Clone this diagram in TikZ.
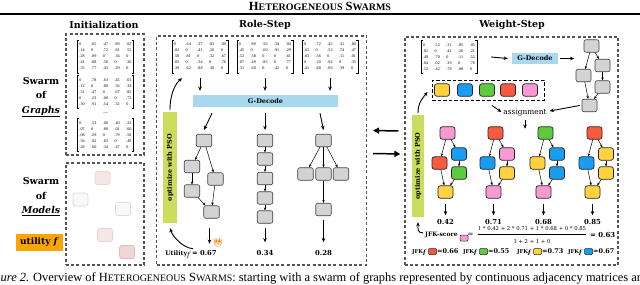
\documentclass[tikz,border=0pt]{standalone}
\usepackage{fontspec}
\setmainfont{DejaVu Serif}
\newfontfamily\tnr{Liberation Serif}
\newfontfamily\emo{Noto Emoji}
\usetikzlibrary{arrows.meta,calc}
\definecolor{psog}{HTML}{CADD5C}
\definecolor{gdec}{HTML}{A8D8EE}
\definecolor{utilo}{HTML}{F9A602}
\definecolor{gnf}{HTML}{D3D3D3}
\definecolor{cy}{HTML}{FFD23F}
\definecolor{cb}{HTML}{1A9CF0}
\definecolor{cg}{HTML}{5DCB3C}
\definecolor{cr}{HTML}{F85A3E}
\definecolor{cp}{HTML}{F79AD3}
\definecolor{boxc}{HTML}{555555}
\definecolor{pkd}{HTML}{EBD3D3}
\definecolor{pkf}{HTML}{F7E6E6}
\definecolor{whd}{HTML}{DCDCDC}
\definecolor{whf}{HTML}{F9F9F9}
\definecolor{pkdd}{HTML}{E3BDBD}
\definecolor{pkff}{HTML}{F1D6D6}
\newcommand{\mtx}[5]{{\tnr\fontsize{4.1}{6.1}\selectfont\setlength{\tabcolsep}{3.3pt}\begin{tabular}{@{}lllll@{}}#1\\#2\\#3\\#4\\#5\end{tabular}}}
\newcommand{\brk}[1]{\draw[line width=0.45pt] ([xshift=1.6pt]#1.north west) -- (#1.north west) -- (#1.south west) -- ([xshift=1.6pt]#1.south west); \draw[line width=0.45pt] ([xshift=-1.6pt]#1.north east) -- (#1.north east) -- (#1.south east) -- ([xshift=-1.6pt]#1.south east);}
\begin{document}
\begin{tikzpicture}[x=1pt,y=-1pt,
  dbox/.style={draw=boxc, line width=1.2pt, dash pattern=on 3pt off 2.2pt, inner sep=0pt},
  mat/.style={inner xsep=1.8pt, inner ysep=1.2pt},
  gn/.style={draw=black!75, fill=gnf, line width=0.6pt, rounded corners=2pt, minimum width=15.5pt, minimum height=12.5pt, inner sep=0pt},
  cn/.style={draw=black!85, line width=0.7pt, rounded corners=2.5pt, minimum width=15pt, minimum height=12.5pt, inner sep=0pt, fill=#1},
  md/.style 2 args={draw=#1, fill=#2, line width=0.7pt, rounded corners=2.5pt, minimum width=15pt, minimum height=13pt, inner sep=0pt},
  ed/.style={-{Stealth[length=3pt,width=2.4pt]}, line width=0.5pt},
  big/.style={-{Stealth[length=4.2pt,width=3.6pt]}, line width=0.9pt},
  huge/.style={-{Triangle[length=6pt,width=6pt]}, line width=1.5pt},
  psobar/.style={fill=psog, rotate=90, inner sep=0pt, font=\bfseries\fontsize{6.5}{7}\selectfont},
  gdbar/.style={fill=gdec, inner sep=0pt, font=\bfseries\fontsize{6.5}{7}\selectfont},
  ttl/.style={font=\bfseries\fontsize{9.5}{11}\selectfont, inner sep=0pt},
  lbl/.style={font=\bfseries\fontsize{9.5}{14.5}\selectfont, align=center, inner sep=0pt},
  score/.style={font=\bfseries\fontsize{6.9}{8}\selectfont, inner sep=0pt},
  txt/.style={inner sep=0pt},
  sq/.style={draw=black!85, line width=0.5pt, rounded corners=1pt, minimum width=8pt, minimum height=6pt, inner sep=0pt, fill=#1},
]
\useasboundingbox (0,0) rectangle (640,284);
\clip (0,0) rectangle (640,284);
\fill[white] (0,0) rectangle (640,284);

% title and rule
\node[txt, anchor=base, font=\tnr\bfseries\fontsize{12.5}{13}\selectfont] (title) at (320,10.5) {H{\fontsize{10}{11}\selectfont ETEROGENEOUS} S{\fontsize{10}{11}\selectfont WARMS}};
\draw[line width=1.1pt] (0,14) -- (640,14);

% ---------------- Initialization
\node[ttl] (it) at (104,25) {Initialization};
\node[dbox, minimum width=78pt, minimum height=121pt] (ib1) at (105,94.5) {};
\node[dbox, minimum width=78pt, minimum height=102pt] (ib2) at (105,214) {};
\node[mat] (im1) at (105.5,56.5) {\mtx{0 & .65 & .47 & .89 & .02}{.14 & 0 & .72 & .81 & .55}{.28 & .09 & 0 & .34 & 0}{.41 & .88 & .56 & 0 & .20}{.35 & .77 & .43 & .29 & 0}};
\brk{im1}
\node[mat] (im2) at (105.5,92) {\mtx{0 & .78 & .63 & .45 & .01}{.12 & 0 & .80 & .56 & .34}{.51 & .47 & 0 & .67 & .85}{0 & .23 & .06 & 0 & .72}{.30 & .91 & .54 & .32 & 0}};
\brk{im2}
\node[txt, font=\tnr\fontsize{6}{6}\selectfont] (idots) at (105.5,113) {...};
\node[mat] (im3) at (105.5,135) {\mtx{0 & .53 & .06 & .40 & .23}{.07 & 0 & .88 & .01 & .60}{.08 & .29 & 0 & .79 & .58}{.36 & .02 & .83 & 0 & .49}{.28 & .60 & .34 & .47 & 0}};
\brk{im3}
\node[lbl] (sg) at (41,97) {Swarm\\of\\\underline{\textit{Graphs}}};
\node[lbl] (sm) at (41,197) {Swarm\\of\\\underline{\textit{Models}}};
\node[fill=utilo, minimum width=47pt, minimum height=17pt, inner sep=0pt, font=\bfseries\fontsize{9}{10}\selectfont] (ut) at (39.5,242.5) {utility \textit{f}};
\node[md={pkd}{pkf}] (mo1) at (102.5,178) {};
\node[md={whd}{whf}] (mo2) at (80.5,199.5) {};
\node[md={whd}{whf}] (mo3) at (123,209) {};
\node[md={pkd}{pkf}] (mo4) at (105,235) {};
\node[md={pkdd}{pkff}] (mo5) at (127,252) {};

% ---------------- Role-Step
\node[ttl] (rt) at (265,25) {Role-Step};
\node[dbox, minimum width=210pt, minimum height=229pt] (rbox) at (261.5,150.5) {};
\node[mat] (rm1) at (200,56.5) {\mtx{0 & .64 & .37 & .83 & .09}{.02 & 0 & .41 & .26 & 0}{.58 & .81 & 0 & .32 & .67}{.05 & 0 & .54 & 0 & .76}{.39 & .62 & .88 & .30 & 0}};
\brk{rm1}
\node[mat] (rm2) at (265,56.5) {\mtx{0 & .80 & .56 & .34 & .04}{.45 & 0 & .60 & .91 & .29}{.52 & .38 & 0 & 0 & .61}{.07 & .49 & .85 & 0 & .77}{.31 & .60 & 0 & .42 & 0}};
\brk{rm2}
\node[mat] (rm3) at (330,56.5) {\mtx{0 & .72 & .45 & .31 & .80}{.62 & 0 & .53 & .74 & .47}{.03 & .36 & 0 & .11 & .01}{0 & .20 & .92 & 0 & .35}{.41 & .80 & .06 & .39 & 0}};
\brk{rm3}
\node[gdbar, minimum width=145pt, minimum height=12pt] (gd1) at (265.5,101) {G-Decode};
\foreach \m in {rm1,rm2,rm3} \draw[big] ([yshift=-5pt]\m.south) -- ([yshift=4pt]\m.south |- gd1.north);
\node[psobar, minimum width=111pt, minimum height=14pt] (pso1) at (170,167.5) {optimize with PSO};
\coordinate (m1tip) at ([xshift=-18pt,yshift=-5pt]rm1.south);
\draw[big] ([yshift=2pt]pso1.east) .. controls +(0,-17) and +(-6,5) .. (m1tip);

% graph 1
\node[gn] (r1a) at (204,140.5) {};
\node[gn] (r1b) at (192,166.5) {};
\node[gn] (r1c) at (215.5,179) {};
\node[gn] (r1d) at (192,191) {};
\node[gn] (r1e) at (211.5,212) {};
\draw[ed] (r1a) -- (r1b);
\draw[ed] (r1a) -- (r1c);
\draw[ed] (r1b) -- (r1d);
\draw[ed] (r1d) -- (r1e);
\draw[ed] (r1c) -- (r1e);
% graph 2
\node[gn] (r2a) at (265,140.5) {};
\node[gn] (r2b) at (265,159) {};
\node[gn] (r2c) at (265,178.5) {};
\node[gn] (r2d) at (265,198) {};
\node[gn] (r2e) at (265,217) {};
\draw[ed] (r2a) -- (r2b);
\draw[ed] (r2b) -- (r2c);
\draw[ed] (r2c) -- (r2d);
\draw[ed] (r2d) -- (r2e);
% graph 3
\node[gn] (r3a) at (323.5,140.5) {};
\node[gn] (r3b) at (305.5,174) {};
\node[gn] (r3c) at (323.5,174) {};
\node[gn] (r3d) at (341,174) {};
\node[gn] (r3e) at (323.5,209.5) {};
\draw[ed] (r3a) -- (r3b);
\draw[ed] (r3a) -- (r3c);
\draw[ed] (r3a) -- (r3d);
\draw[ed] (r3c) -- (r3e);
% arrows from G-Decode
\draw[big] ([xshift=-53.5pt,yshift=-6pt]gd1.south) -- ([yshift=4pt]r1a.north);
\draw[big] ([xshift=-0.5pt,yshift=-6pt]gd1.south) -- ([yshift=4pt]r2a.north);
\draw[big] ([xshift=54.5pt,yshift=-6pt]gd1.south) -- ([yshift=4pt]r3a.north);
% scores
\node[txt, anchor=base] (u1) at (191,255) {{\bfseries\fontsize{6.2}{7}\selectfont Utility}\raisebox{-2pt}{\fontsize{7}{7}\selectfont\itshape f}{\bfseries\fontsize{6.8}{7}\selectfont\ = 0.67}};
\node[score] (s2) at (265,253) {0.34};
\node[score] (s3) at (323.5,253) {0.28};
\draw[big] ([xshift=-2pt,yshift=-9pt]r1e.south) -- ([xshift=-2pt,yshift=6pt]r1e.south |- u1.north);
\draw[big] ([yshift=-4pt]r2e.south) -- ([yshift=8pt]s2.north);
\draw[big] ([yshift=-4pt]r3e.south) -- ([yshift=8pt]s3.north);
\node[txt] (crown) at (218,243) {\emo\fontsize{8}{8}\selectfont\textcolor{orange}{👑}};
\draw[big] ([xshift=2pt,yshift=1pt]u1.north) .. controls +(-10,-1) and +(3,9) .. ([yshift=-5pt]pso1.west);

% ---------------- Weight-Step
\node[ttl] (wt) at (512,25) {Weight-Step};
\node[dbox, minimum width=213pt, minimum height=228pt] (wbox) at (511.5,151) {};
\node[mat] (wm) at (449,57) {\mtx{0 & .52 & .31 & .85 & .05}{.02 & 0 & .41 & .26 & .21}{.49 & .70 & 0 & .11 & .52}{.04 & .02 & .39 & 0 & .76}{.52 & .42 & .78 & .08 & 0}};
\brk{wm}
\node[gdbar, minimum width=46pt, minimum height=11pt] (gd2) at (535,58.5) {G-Decode};
\draw[big] ([xshift=14pt]wm.east) -- ([xshift=-4pt]gd2.west);
\coordinate (gtip) at ([xshift=16pt]gd2.east);
\draw[big] ([xshift=2pt]gd2.east) -- (gtip);
\node[gn, minimum width=15pt] (w0a) at (591.5,46) {};
\node[gn, minimum width=15pt] (w0b) at (583.5,75.5) {};
\node[gn, minimum width=15pt] (w0c) at (602.5,65.5) {};
\node[gn, minimum width=15pt] (w0d) at (602.5,87) {};
\node[gn, minimum width=15pt] (w0e) at (589.5,105.5) {};
\draw[ed] (w0a) -- (w0b);
\draw[ed] (w0a) -- (w0c);
\draw[ed] (w0c) -- (w0d);
\draw[ed] (w0b) -- (w0e);
\draw[ed] (w0d) -- (w0e);

\node[draw, line width=0.9pt, dash pattern=on 3.5pt off 2pt, minimum width=112pt, minimum height=20pt, inner sep=0pt] (cbox) at (488,90) {};
\node[cn=cy] (k1) at (442,90) {};
\node[cn=cb] (k2) at (465,90) {};
\node[cn=cg] (k3) at (487,90) {};
\node[cn=cr] (k4) at (508,90) {};
\node[cn=cp] (k5) at (530,90) {};
\node[txt, font=\fontsize{7.4}{8}\selectfont] (asg) at (525,113) {assignment};
\draw[big] ([xshift=4pt,yshift=-5pt]cbox.south) -- ([xshift=-2pt,yshift=1pt]asg.west);
\draw[big] ([xshift=-2pt]w0e.west) -- ([xshift=3pt,yshift=2pt]asg.east);
\coordinate (asgtip) at ([yshift=-12pt]asg.south);
\draw[big] ([yshift=-3pt]asg.south) -- (asgtip);

\node[psobar, minimum width=102pt, minimum height=12pt] (pso2) at (418,166) {optimize with PSO};
\coordinate (cboxtip) at ([xshift=-4pt,yshift=-2pt]cbox.west);
\draw[big] ([yshift=2pt]pso2.east) .. controls +(0,-10) and +(-5,6) .. (cboxtip);

\foreach \gid/\dx/\ca/\cb/\cc/\cd/\ce/\val in {A/0/cp/cr/cb/cg/cy/0.42, B/48/cr/cb/cp/cy/cp/0.71, C/98/cg/cy/cb/cb/cp/0.68, D/147/cr/cb/cy/cy/cy/0.85} {
  \node[cn=\ca] (w\gid1) at ({447.5+\dx},133) {};
  \node[cn=\cb] (w\gid2) at ({439.5+\dx},163) {};
  \node[cn=\cc] (w\gid3) at ({459+\dx},154) {};
  \node[cn=\cd] (w\gid4) at ({459+\dx},173) {};
  \node[cn=\ce] (w\gid5) at ({445.5+\dx},192) {};
  \draw[ed] (w\gid1) -- (w\gid2);
  \draw[ed] (w\gid1) -- (w\gid3);
  \draw[ed] (w\gid3) -- (w\gid4);
  \draw[ed] (w\gid2) -- (w\gid5);
  \draw[ed] (w\gid4) -- (w\gid5);
  \node[score] (v\gid) at ({445.5+\dx},222) {\val};
  \draw[big] ([yshift=-5pt]w\gid5.south) -- ([yshift=4pt]v\gid.north);
}

% JFK score
\node[txt, anchor=base west, font=\bfseries\fontsize{6}{7}\selectfont] (jfk) at (425,236) {JFK-score};
\node[sq=cp] (sq0) at (464,238) {};
\node[txt, font=\fontsize{7}{8}\selectfont] (eq0) at (470.5,234.5) {=};
\node[txt, font=\fontsize{5.3}{6}\selectfont] (num) at (532,228.5) {1 * 0.42 + 2 * 0.71 + 1 * 0.68 + 0 * 0.85};
\node[txt, font=\fontsize{5.3}{6}\selectfont] (den) at (532,241.5) {1 + 2 + 1 + 0};
\draw[line width=0.4pt] ([yshift=-3.5pt]num.south west) -- ([yshift=-3.5pt]num.south east);
\node[score, anchor=west] (res) at (590,235) {= 0.63};
\draw[big] ([xshift=-2pt,yshift=1.5pt]jfk.west) .. controls +(-6,0) and +(0,6) .. ([yshift=-5pt]pso2.west);

\foreach \i/\x/\col/\val in {1/412/cr/0.66, 2/463/cg/0.55, 3/517/cy/0.73, 4/568/cb/0.67} {
  \node[txt, anchor=base west, font=\bfseries\fontsize{5.3}{6}\selectfont] (jl\i) at (\x,253) {JFK\raisebox{-1.6pt}{\fontsize{6}{6}\selectfont\itshape f}};
  \node[sq=\col] (js\i) at ({\x+20.5},251.5) {};
  \node[txt, anchor=base west, font=\bfseries\fontsize{6.5}{7}\selectfont] (jv\i) at ({\x+25},253) {=\val};
}

% between boxes
\draw[huge] ([xshift=-6pt,yshift=20pt]wbox.west) -- ([xshift=6pt,yshift=20pt]rbox.east);
\draw[huge] ([xshift=6pt,yshift=-3pt]rbox.east) -- ([xshift=-4pt,yshift=-3pt]wbox.west);

% caption
\node[txt, anchor=base east, font=\tnr\itshape\fontsize{12.45}{13}\selectfont] (cap1) at (29.5,281) {Figure 2.};
\node[txt, anchor=base west, font=\tnr\fontsize{12.45}{13}\selectfont] (cap2) at (33,281) {Overview of H{\fontsize{9.9}{10}\selectfont ETEROGENEOUS} S{\fontsize{9.9}{10}\selectfont WARMS}: starting with a swarm of graphs represented by continuous adjacency matrices are};
\end{tikzpicture}
\end{document}
